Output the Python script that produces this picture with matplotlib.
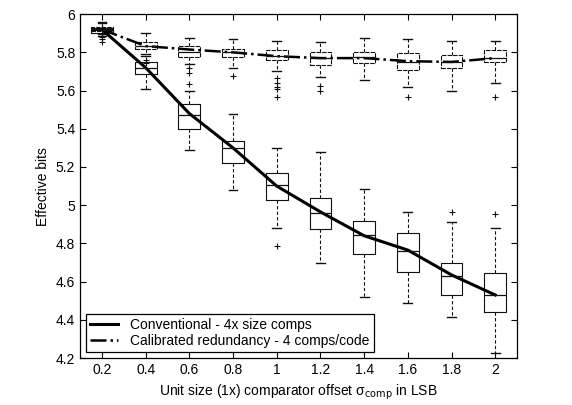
import matplotlib
matplotlib.use('Agg')
import matplotlib.pyplot as plt

plt.rcParams['font.family'] = ['Liberation Sans', 'DejaVu Sans']

# comparator offset positions (LSB)
sigma = [0.2, 0.4, 0.6, 0.8, 1.0, 1.2, 1.4, 1.6, 1.8, 2.0]
xticklabels = ['0.2', '0.4', '0.6', '0.8', '1', '1.2', '1.4', '1.6', '1.8', '2']

# conventional - 4x size comps
conv_mean = [5.92, 5.72, 5.48, 5.30, 5.10, 4.965, 4.84, 4.765, 4.635, 4.53]
conv_med = [5.915, 5.72, 5.47, 5.30, 5.105, 4.96, 4.843, 4.76, 4.628, 4.529]
conv_q1 = [5.90, 5.686, 5.40, 5.22, 5.026, 4.875, 4.743, 4.65, 4.53, 4.44]
conv_q3 = [5.93, 5.75, 5.53, 5.335, 5.167, 5.04, 4.916, 4.853, 4.696, 4.644]
conv_lo = [5.885, 5.607, 5.29, 5.08, 4.88, 4.70, 4.518, 4.487, 4.414, 4.225]
conv_hi = [5.955, 5.78, 5.60, 5.476, 5.30, 5.277, 5.084, 4.963, 4.91, 4.88]
conv_fliers = [[5.87, 5.855], [], [5.634], [], [4.785], [], [], [], [4.963], [4.953]]

# calibrated redundancy - 4 comps/code
cal_mean = [5.92, 5.833, 5.815, 5.80, 5.78, 5.77, 5.77, 5.754, 5.75, 5.77]
cal_med = [5.925, 5.835, 5.80, 5.80, 5.78, 5.77, 5.775, 5.75, 5.75, 5.77]
cal_q1 = [5.91, 5.82, 5.775, 5.775, 5.76, 5.733, 5.743, 5.707, 5.717, 5.75]
cal_q3 = [5.935, 5.853, 5.833, 5.82, 5.81, 5.80, 5.80, 5.795, 5.785, 5.81]
cal_lo = [5.895, 5.79, 5.74, 5.72, 5.70, 5.67, 5.655, 5.62, 5.60, 5.64]
cal_hi = [5.96, 5.90, 5.875, 5.87, 5.86, 5.855, 5.875, 5.87, 5.86, 5.86]
cal_fliers = [[5.88], [5.76, 5.745], [5.717, 5.69], [5.675],
              [5.665, 5.64, 5.62, 5.61, 5.565], [5.623, 5.60], [], [5.566], [], [5.566]]


def make_stats(med, q1, q3, lo, hi, fl):
    return [dict(med=m, q1=a, q3=b, whislo=l, whishi=h, fliers=f)
            for m, a, b, l, h, f in zip(med, q1, q3, lo, hi, fl)]


fig = plt.figure(figsize=(5.72, 4.05), dpi=100)
ax = fig.add_axes([0.14, 0.116, 0.764, 0.849])

ink = '#111111'
box_kw = dict(positions=sigma, widths=0.1, capwidths=0.04, showfliers=True,
              manage_ticks=False,
              medianprops=dict(color=ink, lw=0.9),
              whiskerprops=dict(color=ink, lw=0.8, ls=(0, (3, 2))),
              capprops=dict(color=ink, lw=1.0),
              flierprops=dict(marker='+', markeredgecolor=ink, markersize=5, mew=0.8))

ax.bxp(make_stats(conv_med, conv_q1, conv_q3, conv_lo, conv_hi, conv_fliers),
       boxprops=dict(color=ink, lw=0.8), **box_kw)
ax.bxp(make_stats(cal_med, cal_q1, cal_q3, cal_lo, cal_hi, cal_fliers),
       boxprops=dict(color=ink, lw=0.8, ls=(0, (4, 1))), **box_kw)

ax.plot(sigma, conv_mean, '-', color='black', lw=2.2,
        label='Conventional - 4x size comps')
ax.plot(sigma, cal_mean, '-.', color='black', lw=1.8,
        label='Calibrated redundancy - 4 comps/code')

ax.set_xlim(0.1, 2.1)
ax.set_ylim(4.2, 6.0)
ax.set_xticks(sigma)
ax.set_xticklabels(xticklabels)
ax.set_yticks([4.2, 4.4, 4.6, 4.8, 5.0, 5.2, 5.4, 5.6, 5.8, 6.0])
ax.set_yticklabels(['4.2', '4.4', '4.6', '4.8', '5', '5.2', '5.4', '5.6', '5.8', '6'])
ax.tick_params(direction='in', top=True, right=True, labelsize=10, length=4, width=0.8)
for s in ax.spines.values():
    s.set_linewidth(0.9)

ax.set_xlabel('Unit size (1x) comparator offset σ$_{\\rm comp}$ in LSB', fontsize=10)
ax.set_ylabel('Effective bits', fontsize=10)

leg = ax.legend(loc='lower left', frameon=True, fancybox=False, fontsize=10,
                borderaxespad=0.4, handlelength=2.0, borderpad=0.3, labelspacing=0.15,
                handletextpad=0.9)
leg.get_frame().set_edgecolor('black')
leg.get_frame().set_linewidth(0.9)
leg.get_frame().set_alpha(1)

fig.savefig('out.png', dpi=100)
